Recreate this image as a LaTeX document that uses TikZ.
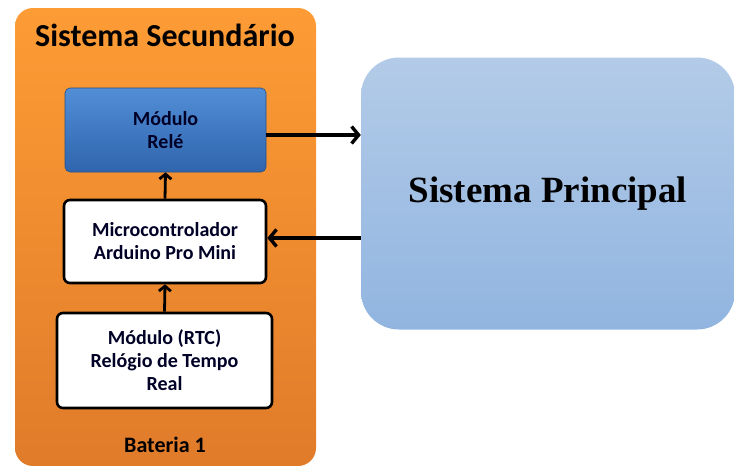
\documentclass[tikz,border=0pt]{standalone}
\usepackage{fontspec}
\setmainfont{Liberation Serif}
\setsansfont{Carlito}
\usetikzlibrary{arrows.meta}
\definecolor{laranjaTopo}{HTML}{FD9C35}
\definecolor{laranjaBase}{HTML}{E07B2A}
\definecolor{azulTopo}{HTML}{528ED6}
\definecolor{azulBase}{HTML}{2F65AD}
\definecolor{celesteTopo}{HTML}{B3CBE8}
\definecolor{celesteBase}{HTML}{91B5E0}
\begin{document}
\begin{tikzpicture}[x=1pt,y=-1pt,->,>={Straight Barb[length=7pt,width=17pt]}]
        \tikzstyle{bloco}=[draw=black,line width=2.6pt,rounded corners=6pt,fill=white,align=center,inner sep=0pt,
                           font=\sffamily\bfseries\fontsize{20}{23}\selectfont,text=black!85!blue]
        \tikzstyle{rele}=[draw=azulBase!80!black,line width=0.6pt,rounded corners=5pt,top color=azulTopo,bottom color=azulBase,
                          align=center,inner sep=0pt,font=\sffamily\bfseries\fontsize{20}{23}\selectfont,text=black!85!blue]
        \tikzstyle{edge}=[draw,line width=3.4pt]
        \tikzstyle{subida}=[draw,line width=2.8pt,-{Straight Barb[length=5pt,width=12pt]}]
        \useasboundingbox (0,0) rectangle (734,466);
       \begin{scope}
         % caixa do sistema secundario
         \shade[draw=none,rounded corners=18pt,top color=laranjaTopo,bottom color=laranjaBase] (15,8) rectangle (316,466);
         \node [font=\sffamily\bfseries\fontsize{32}{36}\selectfont] (titulo) at (165,35) {Sistema Secund\'ario};
         \node [font=\sffamily\bfseries\fontsize{22}{26}\selectfont] (bateria) at (165,445) {Bateria 1};
         \node [rele,minimum width=201pt,minimum height=84pt] (modrele) at (165.5,130) {M\'odulo\\Rel\'e};
         \node [bloco,minimum width=202pt,minimum height=83pt] (micro) at (165,241.5) {Microcontrolador\\Arduino Pro Mini};
         \node [bloco,minimum width=215pt,minimum height=95pt] (rtc) at (164.5,360.5) {M\'odulo (RTC)\\Rel\'ogio de Tempo\\Real};
         % sistema principal
         \node [rounded corners=38pt,top color=celesteTopo,bottom color=celesteBase,minimum width=374pt,minimum height=272pt,
                font=\bfseries\fontsize{37}{42}\selectfont] (principal) at (548,193.5) {Sistema Principal};
         \coordinate (saida) at (0,135);
         \coordinate (entrada) at (0,238);
         \path[edge] (modrele.east |- saida) -- (principal.west |- saida);
         \path[edge] (principal.west |- entrada) -- (micro.east |- entrada);
         \path[subida] (micro.north) -- (modrele.south);
         \path[subida] (rtc.north) -- (micro.south);
        \end{scope}
      \end{tikzpicture}
\end{document}
